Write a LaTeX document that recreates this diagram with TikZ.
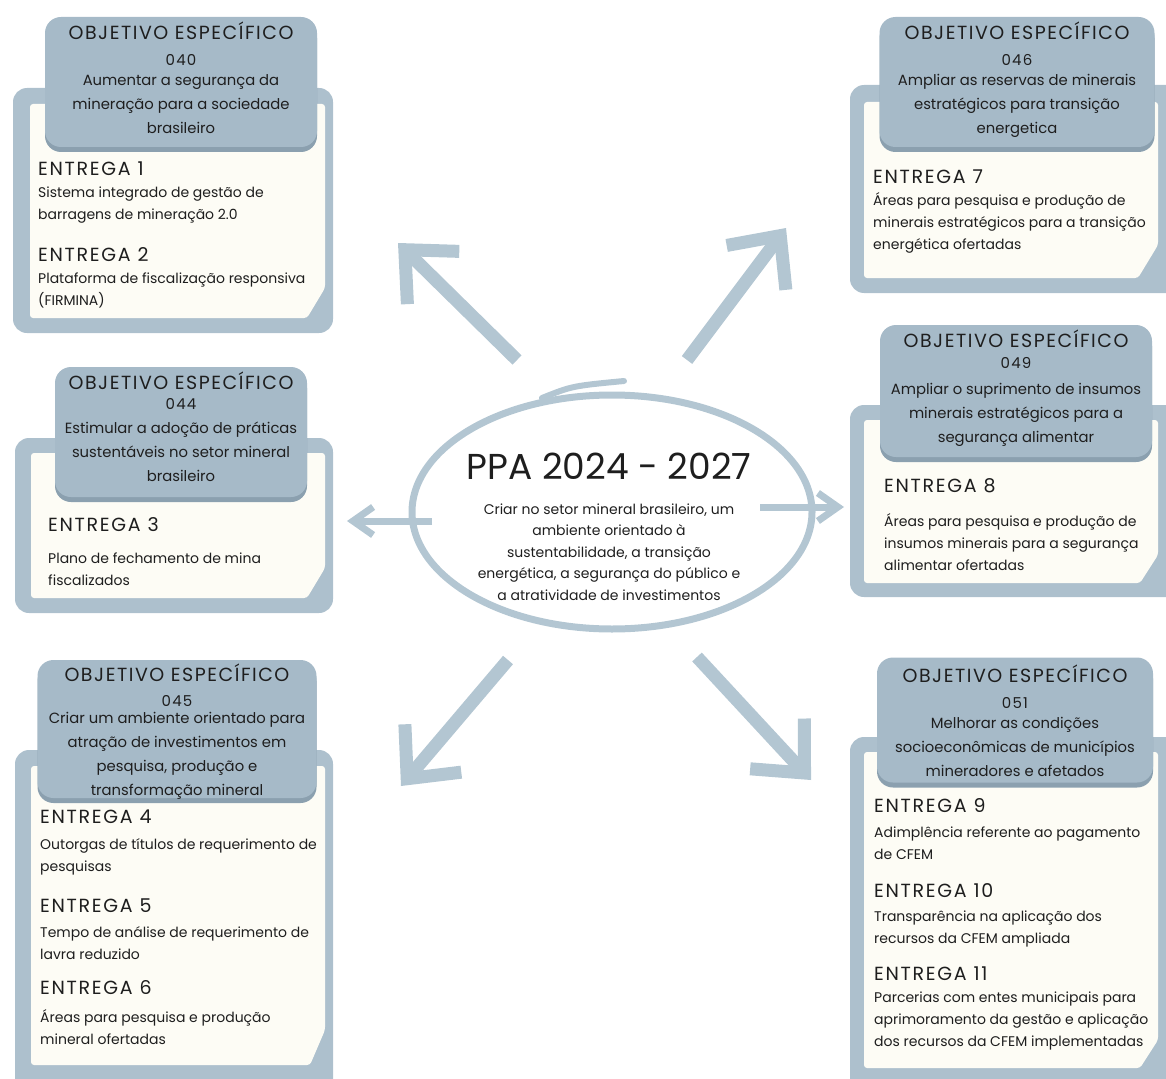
\documentclass[tikz,border=0pt]{standalone}
\usepackage{fontspec}
\setmainfont{Poppins}
\newfontfamily\fonteesp[LetterSpace=8]{Poppins}
\newfontfamily\fonteent[LetterSpace=9]{Poppins}
\usetikzlibrary{arrows.meta,shapes.geometric,shadows}

\definecolor{azulborda}{HTML}{ADC0CD}
\definecolor{azulcab}{HTML}{A6BAC8}
\definecolor{azulsombra}{HTML}{8BA0AF}
\definecolor{creme}{HTML}{FDFCF5}
\definecolor{azulseta}{HTML}{B3C6D2}
\definecolor{tinta}{HTML}{1E1E1E}

\newcommand\ftit{\fonteesp\fontsize{19}{24}\selectfont}
\newcommand\fnum{\fonteesp\fontsize{15}{24}\selectfont}
\newcommand\fcab{\fontsize{14.8}{24}\selectfont}
\newcommand\fcorpo{\fontsize{14}{22}\selectfont}
\newcommand\fent{\fonteent\fontsize{19}{22}\selectfont}
\newcommand\fppa{\fontsize{36}{40}\selectfont}
\newcommand\fmeio{\fontsize{14}{21.5}\selectfont}

\begin{document}
\begin{tikzpicture}[x=1pt,y=-1pt,text=tinta,
  moldura/.style={fill=azulborda,rounded corners=14pt},
  folha/.style={fill=creme,rounded corners=3pt},
  cabec/.style={fill=azulcab,rounded corners=16pt,inner sep=0pt,
    drop shadow={shadow xshift=0pt,shadow yshift=-5pt,fill=azulsombra,opacity=1}},
  texcab/.style={align=center,inner sep=0pt,font=\fcab},
  entrega/.style={anchor=north west,align=left,inner sep=0pt,font=\fcorpo},
  seta/.style={draw=azulseta,line width=13pt,-{Straight Barb[length=40pt,width=74pt]}},
  setafina/.style={draw=azulseta,line width=7pt,-{Straight Barb[length=20pt,width=28pt]}}]
  \clip (0,0) rectangle (1166,1078);

  \fill[moldura] (13,88) rectangle (333,333);
  \fill[folha] (30,104) -- (325,104) -- (325,288) -- (307,318) -- (30,318) -- cycle;
  \node (c040) at (181,82) [cabec,minimum width=272pt,minimum height=130pt] {};
  \node (t040) at (181,78) [texcab]
    {{\ftit OBJETIVO ESPECÍFICO}\\[2pt]{\fnum 040}\\[-4pt]Aumentar a segurança da\\mineração para a sociedade\\brasileiro};
  \node (e040) at (38,162) [entrega]
    {{\fent ENTREGA 1}\\Sistema integrado de gestão de\\barragens de mineração 2.0\\[20pt]
     {\fent ENTREGA 2}\\Plataforma de fiscalização responsiva\\(FIRMINA)};

  \fill[moldura] (850,85) rectangle (1180,293);
  \fill[folha] (864,102) -- (1158,102) -- (1158,245) -- (1138,278) -- (864,278) -- cycle;
  \node (c046) at (1017,82) [cabec,minimum width=275pt,minimum height=130pt] {};
  \node (t046) at (1017,80) [texcab]
    {{\ftit OBJETIVO ESPECÍFICO}\\[2pt]{\fnum 046}\\[-4pt]Ampliar as reservas de minerais\\estratégicos para transição\\energetica};
  \node (e046) at (873,170) [entrega]
    {{\fent ENTREGA 7}\\Áreas para pesquisa e produção de\\minerais estratégicos para a transição\\energética ofertadas};

  \fill[moldura] (15,438) rectangle (333,613);
  \fill[folha] (31,453) -- (325,453) -- (325,568) -- (307,598) -- (31,598) -- cycle;
  \node (c044) at (181,432) [cabec,minimum width=252pt,minimum height=130pt] {};
  \node (t044) at (181,427) [texcab]
    {{\ftit OBJETIVO ESPECÍFICO}\\[-4pt]{\fnum 044}\\Estimular a adoção de práticas\\sustentáveis no setor mineral\\brasileiro};
  \node (e044) at (48,517) [entrega]
    {{\fent ENTREGA 3}\\[10pt]Plano de fechamento de mina\\fiscalizados};

  \fill[moldura] (15,750) rectangle (333,1095);
  \fill[folha] (31,766) -- (325,766) -- (325,1030) -- (310,1065) -- (31,1065) -- cycle;
  \node (c045) at (177,729) [cabec,minimum width=279pt,minimum height=138pt] {};
  \node (t045) at (177,732) [texcab]
    {{\ftit OBJETIVO ESPECÍFICO}\\[1pt]{\fnum 045}\\[-7pt]Criar um ambiente orientado para\\atração de investimentos em\\pesquisa, produção e\\transformação mineral};
  \node (e045) at (40,810) [entrega]
    {{\fent ENTREGA 4}\\[4pt]Outorgas de títulos de requerimento de\\pesquisas\\[19pt]
     {\fent ENTREGA 5}\\[3pt]Tempo de análise de requerimento de\\lavra reduzido\\[13pt]
     {\fent ENTREGA 6}\\[6pt]Áreas para pesquisa e produção\\mineral ofertadas};

  \fill[moldura] (850,405) rectangle (1180,597);
  \fill[folha] (864,420) -- (1158,420) -- (1158,555) -- (1140,583) -- (864,583) -- cycle;
  \node (c049) at (1016,391) [cabec,minimum width=272pt,minimum height=132pt] {};
  \node (t049) at (1016,388) [texcab]
    {{\ftit OBJETIVO ESPECÍFICO}\\[-3pt]{\fnum 049}\\[2pt]Ampliar o suprimento de insumos\\minerais estratégicos para a\\segurança alimentar};
  \node (e049) at (884,478) [entrega]
    {{\fent ENTREGA 8}\\[12pt]Áreas para pesquisa e produção de\\insumos minerais para a segurança\\alimentar ofertadas};

  \fill[moldura] (850,737) rectangle (1180,1095);
  \fill[folha] (864,752) -- (1158,752) -- (1158,1040) -- (1140,1068) -- (864,1068) -- cycle;
  \node (c051) at (1015,720) [cabec,minimum width=276pt,minimum height=125pt] {};
  \node (t051) at (1015,721) [texcab]
    {{\ftit OBJETIVO ESPECÍFICO}\\[2pt]{\fnum 051}\\[-4pt]Melhorar as condições\\socioeconômicas de municípios\\mineradores e afetados};
  \node (e051) at (874,798) [entrega]
    {{\fent ENTREGA 9}\\[3pt]Adimplência referente ao pagamento\\de CFEM\\[16pt]
     {\fent ENTREGA 10}\\[2pt]Transparência na aplicação dos\\recursos da CFEM ampliada\\[15pt]
     {\fent ENTREGA 11}\\Parcerias com entes municipais para\\aprimoramento da gestão e aplicação\\dos recursos da CFEM implementadas};

  \node (ppa) at (612,512) [draw=azulseta,line width=7pt,ellipse,minimum width=400pt,minimum height=234pt] {};
  \draw[draw=azulseta,line width=6pt,line cap=round] (542,398) .. controls (572,386) .. (624,381);
  \node (tppa) at (609,527) [align=center,inner sep=0pt,font=\fmeio]
    {{\fppa PPA 2024 - 2027}\\[13pt]Criar no setor mineral brasileiro, um\\ambiente orientado à\\sustentabilidade, a transição\\energética, a segurança do público e\\a atratividade de investimentos};

  \coordinate (a1) at (517,360);  \coordinate (b1) at (398,243);
  \coordinate (a2) at (687,360);  \coordinate (b2) at (786,228);
  \coordinate (a3) at (432,521);  \coordinate (b3) at (347,521);
  \coordinate (a4) at (760,507);  \coordinate (b4) at (844,507);
  \coordinate (a5) at (508,660);  \coordinate (b5) at (401,786);
  \coordinate (a6) at (697,657);  \coordinate (b6) at (811,780);
  \draw[seta] (a1) to (b1);
  \draw[seta] (a2) to (b2);
  \draw[setafina] (a3) to (b3);
  \draw[setafina] (a4) to (b4);
  \draw[seta] (a5) to (b5);
  \draw[seta] (a6) to (b6);
\end{tikzpicture}
\end{document}
